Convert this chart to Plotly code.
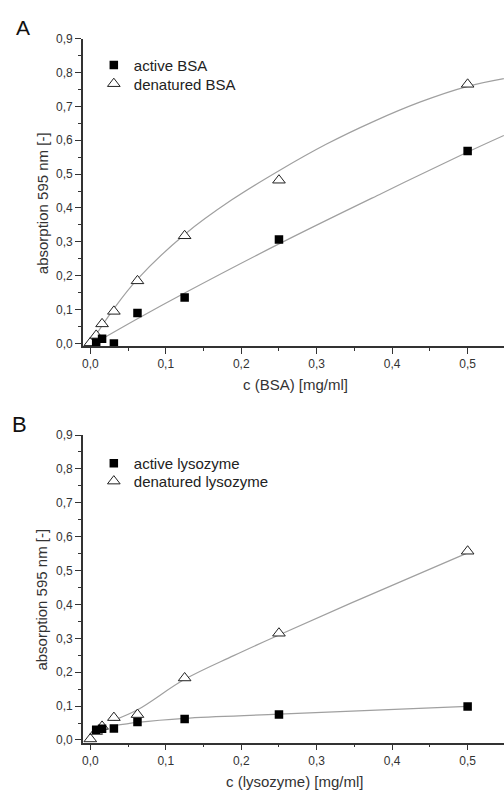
import plotly.graph_objects as go

W, H = 504, 796

# ---------------- data ----------------
conc_bsa_active = [0.0078, 0.0156, 0.03125, 0.0625, 0.125, 0.25, 0.5]
abs_bsa_active = [0.003, 0.014, 0.0, 0.090, 0.136, 0.307, 0.568]
conc_bsa_denat = [0.0, 0.0078, 0.0156, 0.03125, 0.0625, 0.125, 0.25, 0.5]
abs_bsa_denat = [0.002, 0.024, 0.058, 0.095, 0.185, 0.318, 0.482, 0.765]

fit_bsa_active_x = [0.005, 0.0625, 0.125, 0.25, 0.386, 0.5, 0.548]
fit_bsa_active_y = [0.0, 0.073, 0.149, 0.294, 0.443, 0.565, 0.614]
fit_bsa_denat_x = [0.0, 0.0313, 0.0625, 0.125, 0.1875, 0.25, 0.3125, 0.375, 0.4375, 0.5, 0.548]
fit_bsa_denat_y = [0.0, 0.103, 0.19, 0.322, 0.424, 0.51, 0.588, 0.655, 0.713, 0.759, 0.782]

conc_lys_active = [0.0078, 0.0156, 0.03125, 0.0625, 0.125, 0.25, 0.5]
abs_lys_active = [0.030, 0.033, 0.034, 0.053, 0.062, 0.075, 0.099]
conc_lys_denat = [0.0, 0.0078, 0.0156, 0.03125, 0.0625, 0.125, 0.25, 0.5]
abs_lys_denat = [0.003, 0.025, 0.040, 0.066, 0.075, 0.183, 0.315, 0.557]

fit_lys_active_x = [0.031, 0.0625, 0.125, 0.25, 0.5]
fit_lys_active_y = [0.042, 0.052, 0.064, 0.076, 0.099]
fit_lys_denat_x = [0.031, 0.0625, 0.125, 0.19, 0.25, 0.36, 0.5]
fit_lys_denat_y = [0.058, 0.089, 0.179, 0.249, 0.31, 0.418, 0.552]

x_ticks = [0.0, 0.1, 0.2, 0.3, 0.4, 0.5]
y_ticks = [0.0, 0.1, 0.2, 0.3, 0.4, 0.5, 0.6, 0.7, 0.8, 0.9]

# ---------------- geometry ----------------
LEFT = 82
XR = [-0.0099, 0.5482]
YR = [-0.008, 0.9]
panels = [  # (top px, bottom px)
    (32, 344),
    (434, 746),
]

def py2paper(py):
    return 1 - py / H

fig = go.Figure()

LINE_COL = "#a0a0a0"
AX_COL = "#333333"
FONT = "Arial, Liberation Sans, sans-serif"

def add_panel(i, cx_a, cy_a, cx_d, cy_d, fx_a, fy_a, fx_d, fy_d, name_a, name_d, leg_a, leg_d):
    xa = "x" if i == 0 else "x2"
    ya = "y" if i == 0 else "y2"
    fig.add_trace(go.Scatter(x=fx_d, y=fy_d, mode="lines", line=dict(color=LINE_COL, width=1.2, shape="spline"),
                             xaxis=xa, yaxis=ya, showlegend=False, hoverinfo="skip"))
    fig.add_trace(go.Scatter(x=fx_a, y=fy_a, mode="lines", line=dict(color=LINE_COL, width=1.2, shape="spline"),
                             xaxis=xa, yaxis=ya, showlegend=False, hoverinfo="skip"))
    fig.add_trace(go.Scatter(x=cx_d, y=cy_d, mode="markers", name=name_d,
                             marker=dict(symbol="triangle-up", size=11, color="white",
                                         line=dict(color="#222222", width=1)),
                             xaxis=xa, yaxis=ya, legend=leg_d))
    fig.add_trace(go.Scatter(x=cx_a, y=cy_a, mode="markers", name=name_a,
                             marker=dict(symbol="square", size=8.5, color="black",
                                         line=dict(color="black", width=0)),
                             xaxis=xa, yaxis=ya, legend=leg_a))

add_panel(0, conc_bsa_active, abs_bsa_active, conc_bsa_denat, abs_bsa_denat,
          fit_bsa_active_x, fit_bsa_active_y, fit_bsa_denat_x, fit_bsa_denat_y,
          "active BSA", "denatured BSA", "legend", "legend2")
add_panel(1, conc_lys_active, abs_lys_active, conc_lys_denat, abs_lys_denat,
          fit_lys_active_x, fit_lys_active_y, fit_lys_denat_x, fit_lys_denat_y,
          "active lysozyme", "denatured lysozyme", "legend3", "legend4")

tickfont = dict(family=FONT, size=12, color="#333333")

def main_x(dom_y_anchor):
    return dict(domain=[LEFT / W, 1], range=XR, anchor=dom_y_anchor, showgrid=False, zeroline=False,
                showline=True, linecolor=AX_COL, linewidth=1.5, ticks="outside", ticklen=6,
                tickwidth=1.2, tickcolor=AX_COL, tickvals=x_ticks, tickformat=".1f",
                tickfont=tickfont, minor=dict(tickvals=[0.05, 0.15, 0.25, 0.35, 0.45],
                                              ticks="outside", ticklen=3, tickcolor=AX_COL, tickwidth=1))

def main_y(dom, anchor):
    return dict(domain=dom, range=YR, anchor=anchor, showgrid=False, zeroline=False,
                showline=True, linecolor=AX_COL, linewidth=1.5, ticks="outside", ticklen=6,
                tickwidth=1.2, tickcolor=AX_COL, tickvals=y_ticks, tickformat=".1f",
                tickfont=tickfont, minor=dict(tickvals=[0.05, 0.15, 0.25, 0.35, 0.45, 0.55, 0.65, 0.75, 0.85],
                                              ticks="outside", ticklen=3, tickcolor=AX_COL, tickwidth=1))

def top_x(over, anchor):
    return dict(overlaying=over, side="top", anchor=anchor, range=XR, showgrid=False, zeroline=False,
                showline=True, linecolor=AX_COL, linewidth=1.5, ticks="inside", ticklen=6,
                tickwidth=1.2, tickcolor=AX_COL, tickvals=x_ticks, showticklabels=False,
                minor=dict(tickvals=[0.05, 0.15, 0.25, 0.35, 0.45],
                           ticks="inside", ticklen=3, tickcolor=AX_COL, tickwidth=1))

def right_y(over, anchor):
    return dict(overlaying=over, side="right", anchor=anchor, range=YR, showgrid=False, zeroline=False,
                showline=False, ticks="inside", ticklen=6,
                tickwidth=1.2, tickcolor=AX_COL, tickvals=y_ticks, showticklabels=False,
                minor=dict(tickvals=[0.05, 0.15, 0.25, 0.35, 0.45, 0.55, 0.65, 0.75, 0.85],
                           ticks="inside", ticklen=3, tickcolor=AX_COL, tickwidth=1))

domA = [py2paper(panels[0][1]), py2paper(panels[0][0])]
domB = [py2paper(panels[1][1]), py2paper(panels[1][0])]

legfont = dict(family=FONT, size=15, color="#222222")

def leg(row_py):
    return dict(x=93 / W, y=py2paper(row_py), xanchor="left", yanchor="middle",
                bgcolor="rgba(0,0,0,0)", font=legfont, itemclick=False, itemdoubleclick=False)

fig.update_layout(
    width=W, height=H,
    margin=dict(l=0, r=0, t=0, b=0),
    paper_bgcolor="white", plot_bgcolor="white",
    separators=",.",
    font=dict(family=FONT, color="#222222"),
    xaxis=main_x("y"), yaxis=main_y(domA, "x"),
    xaxis2=main_x("y2"), yaxis2=main_y(domB, "x2"),
    xaxis3=top_x("x", "y"), yaxis3=right_y("y", "x"),
    xaxis4=top_x("x2", "y2"), yaxis4=right_y("y2", "x2"),
    legend=leg(59), legend2=leg(78), legend3=leg(463), legend4=leg(481),
    showlegend=True,
)

ann = []
ann.append(dict(text="A", x=22 / W, y=py2paper(21), xref="paper", yref="paper", showarrow=False,
                font=dict(family=FONT, size=21, color="#111111"), xanchor="center", yanchor="middle"))
ann.append(dict(text="B", x=19 / W, y=py2paper(423), xref="paper", yref="paper", showarrow=False,
                font=dict(family=FONT, size=22, color="#111111"), xanchor="center", yanchor="middle"))
for (top, bot), xt in zip(panels, ["c (BSA) [mg/ml]", "c (lysozyme) [mg/ml]"]):
    ann.append(dict(text="absorption 595 nm [-]", x=41 / W, y=py2paper((top + bot) / 2 + 11),
                    xref="paper", yref="paper", showarrow=False, textangle=-90,
                    font=dict(family=FONT, size=15, color="#333333"), xanchor="center", yanchor="middle"))
    ann.append(dict(text=xt, x=295 / W, y=py2paper(bot + 39), xref="paper", yref="paper", showarrow=False,
                    font=dict(family=FONT, size=15, color="#333333"), xanchor="center", yanchor="middle"))
fig.update_layout(annotations=ann)

fig.write_html("out.html")
